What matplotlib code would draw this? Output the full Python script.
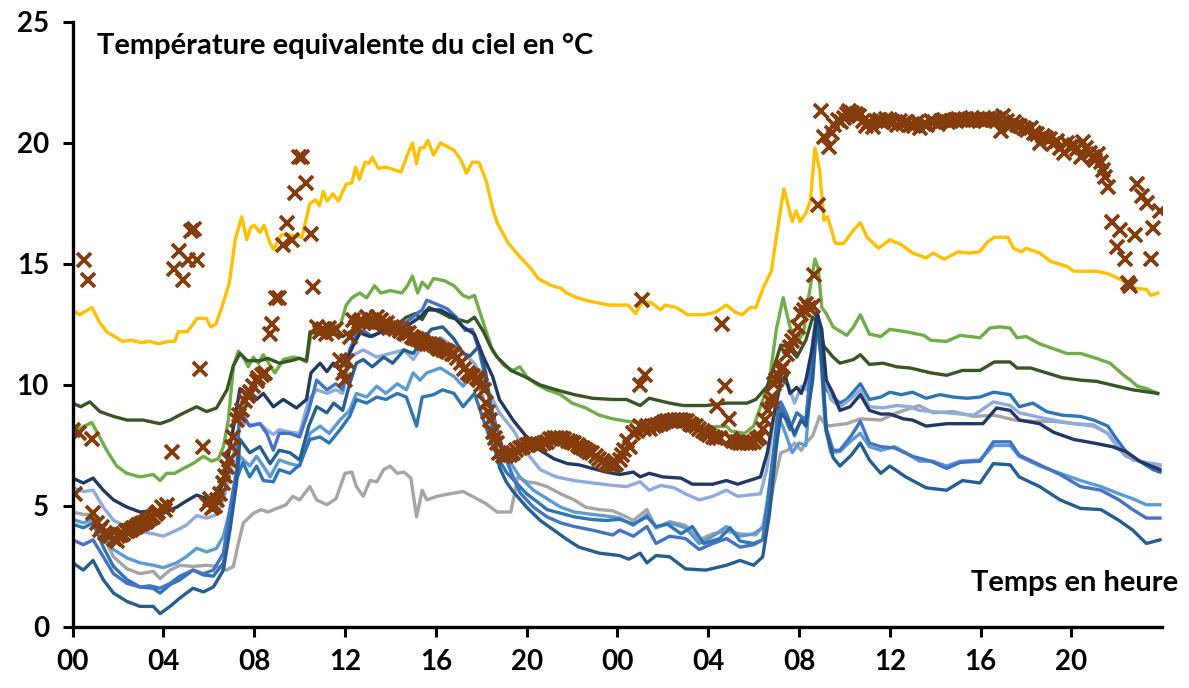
import matplotlib
matplotlib.use("Agg")
import matplotlib.pyplot as plt

plt.rcParams['font.family'] = ['Lato', 'DejaVu Sans']
plt.rcParams['font.weight'] = 'bold'

# heures (0-48) et températures équivalentes du ciel, une liste par courbe
t_jaune = [0.0, 0.3, 0.85, 1.18, 1.5, 1.85, 2.2, 2.6, 3.0, 3.4, 3.8, 4.2, 4.5, 4.65, 5.06, 5.48, 5.9, 6.07, 6.3, 6.57,
           6.9, 7.16, 7.45, 7.67, 7.84, 8.0, 8.26, 8.43, 8.68, 8.85, 9.19, 9.61, 10.1, 10.45, 10.7, 10.87, 11.04, 11.21,
           11.46, 11.71, 12.05, 12.3, 12.47, 12.63, 12.88, 13.05, 13.2, 13.46, 13.8, 14.13, 14.47, 14.72, 14.97, 15.14,
           15.3, 15.47, 15.65, 15.9, 16.2, 16.5, 16.8, 17.1, 17.35, 17.6, 17.9, 18.23, 18.5, 18.7, 19.2, 19.7, 20.2, 20.5,
           21.1, 21.5, 21.75, 22.25, 22.6, 23.1, 23.63, 24.47, 24.8, 25.1, 25.5, 25.9, 26.1, 26.6, 27.1, 27.8, 28.3, 28.8,
           29.2, 29.5, 29.84, 30.1, 30.44, 30.78, 31.03, 31.33, 31.5, 31.7, 31.87, 32.05, 32.3, 32.5, 32.7, 32.9, 33.1,
           33.25, 33.4, 33.6, 33.97, 34.4, 34.7, 35.0, 35.5, 36.0, 36.5, 37.0, 37.6, 37.9, 38.4, 39.0, 39.5, 39.95, 40.3,
           40.6, 41.2, 41.45, 41.8, 42.0, 42.6, 43.1, 43.8, 44.1, 44.6, 45.1, 45.6, 46.3, 46.8, 47.3, 47.5, 47.8]
v_jaune = [13.1, 12.9, 13.2, 12.6, 12.2, 12.0, 11.8, 11.85, 11.75, 11.8, 11.7, 11.8, 11.8, 12.2, 12.2, 12.75, 12.75, 12.4,
           12.5, 13.2, 14.2, 16.0, 16.95, 16.0, 16.5, 16.6, 16.3, 16.6, 15.9, 15.6, 16.2, 16.2, 16.1, 17.5, 17.65, 17.4,
           18.0, 17.6, 17.9, 17.6, 18.3, 18.35, 19.0, 18.5, 19.2, 19.15, 19.4, 18.95, 19.0, 18.9, 18.8, 19.45, 20.0, 19.15,
           19.8, 19.8, 20.1, 19.5, 20.0, 19.85, 19.7, 19.3, 18.75, 19.2, 19.2, 18.4, 17.3, 16.7, 15.85, 15.3, 14.8, 14.4,
           14.1, 14.0, 13.8, 13.6, 13.5, 13.4, 13.3, 13.3, 12.95, 13.45, 13.4, 13.1, 13.3, 13.2, 12.9, 12.9, 13.0, 13.3,
           13.0, 12.9, 13.2, 13.2, 14.05, 14.7, 16.3, 18.1, 17.5, 16.75, 17.2, 16.75, 17.1, 17.6, 19.8, 18.9, 16.8,
           16.95, 16.5, 15.85, 15.85, 16.4, 16.7, 16.1, 15.65, 16.0, 15.8, 15.45, 15.25, 15.45, 15.2, 15.5, 15.45, 15.5,
           15.9, 16.1, 16.1, 15.65, 15.5, 15.65, 15.45, 15.1, 14.9, 14.7, 14.7, 14.7, 14.6, 14.3, 14.0, 13.95, 13.7, 13.8]

t_vert = [0.0, 0.3, 0.84, 1.13, 1.5, 1.94, 2.38, 2.97, 3.55, 3.85, 4.14, 4.5, 4.88, 5.3, 5.76, 6.12, 6.42, 6.64, 6.86,
          7.08, 7.3, 7.52, 7.74, 7.96, 8.18, 8.4, 8.6, 8.91, 9.28, 9.72, 10.0, 10.3, 10.5, 10.75, 11.1, 11.5, 11.8,
          12.05, 12.3, 12.65, 12.95, 13.3, 13.57, 13.99, 14.5, 14.75, 14.97, 15.2, 15.4, 15.65, 15.9, 16.4, 16.8, 17.2,
          17.45, 17.7, 18.1, 18.5, 19.0, 19.4, 19.7, 20.0, 20.4, 20.9, 21.5, 22.0, 22.6, 23.2, 23.8, 24.4, 25.0, 26.0,
          27.0, 28.0, 28.8, 29.0, 29.6, 30.0, 30.3, 30.7, 31.0, 31.3, 31.6, 31.9, 32.2, 32.45, 32.7, 32.85, 33.0, 33.2,
          33.5, 34.1, 34.4, 34.7, 35.1, 35.6, 36.0, 36.7, 37.5, 37.8, 38.5, 39.1, 39.97, 40.4, 40.85, 41.3, 41.6, 42.0,
          42.6, 43.2, 43.8, 44.4, 45.1, 45.7, 46.3, 46.6, 46.9, 47.3, 47.8]
v_vert = [8.3, 8.2, 8.45, 7.95, 7.3, 6.65, 6.35, 6.2, 6.3, 6.05, 6.35, 6.35, 6.55, 6.75, 7.05, 6.85, 6.95, 7.45, 8.55,
          10.75, 11.4, 11.15, 10.75, 11.15, 10.9, 11.25, 10.95, 10.5, 11.05, 11.15, 11.1, 10.95, 12.1, 12.25, 12.2, 12.4,
          12.5, 13.3, 13.6, 13.8, 13.6, 14.1, 13.8, 13.9, 13.8, 14.1, 14.5, 13.8, 14.25, 14.0, 14.4, 14.3, 14.1, 13.7,
          13.6, 13.7, 12.55, 11.4, 10.8, 10.6, 10.75, 10.35, 10.05, 9.8, 9.6, 9.25, 9.05, 8.75, 8.6, 8.5, 8.45, 8.4,
          8.35, 8.25, 8.3, 8.1, 8.0, 8.3, 9.1, 10.2, 12.3, 13.6, 12.4, 11.7, 12.2, 13.8, 15.2, 14.8, 13.2, 12.95,
          12.4, 12.05, 12.4, 12.9, 12.1, 12.0, 12.3, 12.2, 12.05, 11.85, 11.8, 12.05, 11.95, 12.35, 12.4, 12.35, 11.95,
          12.0, 11.7, 11.5, 11.3, 11.3, 11.1, 10.9, 10.4, 10.2, 9.95, 9.85, 9.65]

t_vert_fonce = [0.0, 0.35, 0.76, 1.2, 1.8, 2.4, 3.1, 3.85, 4.3, 4.7, 5.46, 5.9, 6.34, 6.8, 7.08, 7.37, 7.7, 8.25, 8.6,
                9.1, 9.6, 10.0, 10.3, 10.46, 10.9, 11.2, 11.6, 11.9, 12.4, 13.2, 13.9, 14.3, 14.7, 15.1, 15.4, 15.7,
                16.2, 16.6, 17.0, 17.4, 17.7, 18.1, 18.4, 18.7, 19.3, 19.9, 20.6, 21.3, 22.1, 22.9, 23.8, 24.4, 25.0,
                25.4, 26.3, 26.9, 27.9, 28.8, 29.7, 30.1, 30.6, 30.9, 31.2, 31.5, 31.9, 32.3, 32.6, 32.85, 33.1, 33.5,
                33.8, 34.4, 34.7, 35.1, 35.7, 36.3, 36.9, 37.8, 38.5, 39.2, 39.97, 40.6, 41.3, 41.6, 42.2, 42.9, 43.6,
                44.4, 45.1, 46.0, 46.7, 47.8]
v_vert_fonce = [9.25, 9.1, 9.3, 8.9, 8.7, 8.55, 8.55, 8.4, 8.55, 8.75, 9.1, 8.9, 9.05, 9.8, 10.8, 11.3, 11.0, 11.0, 11.1,
                10.9, 11.0, 11.1, 11.0, 12.2, 12.1, 12.05, 12.1, 12.0, 12.3, 12.55, 12.6, 12.5, 12.8, 12.95, 12.7, 13.2,
                13.0, 12.8, 12.7, 12.6, 12.8, 12.2, 11.6, 11.15, 10.6, 10.35, 10.0, 9.8, 9.6, 9.45, 9.4, 9.4, 9.15,
                9.45, 9.25, 9.15, 9.15, 9.25, 9.25, 9.4, 9.95, 10.75, 11.65, 11.6, 11.15, 11.85, 12.8, 12.55, 11.6, 11.15,
                10.9, 11.05, 11.25, 10.85, 10.9, 10.75, 10.7, 10.5, 10.4, 10.6, 10.6, 10.95, 10.95, 10.7, 10.7, 10.5, 10.3,
                10.2, 10.15, 9.95, 9.8, 9.65]

t_marine = [0.0, 0.47, 0.9, 1.35, 1.8, 2.4, 2.97, 3.5, 4.0, 4.58, 5.0, 5.46, 5.9, 6.34, 6.64, 7.0, 7.37, 7.7, 8.1, 8.4,
            8.84, 9.28, 9.86, 10.3, 10.5, 10.9, 11.2, 11.48, 11.78, 12.07, 12.4, 12.66, 13.1, 13.5, 13.98, 14.4, 14.9,
            15.3, 15.6, 16.2, 16.8, 17.2, 17.7, 18.1, 18.5, 18.8, 19.4, 20.0, 20.6, 21.2, 21.8, 22.3, 22.9, 23.5, 24.1,
            24.7, 25.0, 25.4, 26.0, 26.8, 27.3, 28.2, 28.8, 29.3, 29.8, 30.3, 30.6, 30.9, 31.2, 31.4, 31.6, 31.9, 32.1,
            32.3, 32.6, 32.8, 33.0, 33.2, 33.5, 33.8, 34.25, 34.7, 35.1, 35.6, 36.0, 36.6, 37.0, 37.6, 38.5, 39.4, 40.1,
            40.7, 41.3, 41.7, 42.6, 43.2, 44.1, 44.98, 45.8, 46.4, 47.0, 47.9]
v_marine = [6.15, 5.95, 6.15, 5.65, 5.25, 4.95, 4.75, 4.8, 4.7, 4.95, 5.2, 5.45, 5.3, 5.4, 5.95, 7.8, 9.85, 9.5, 9.4, 9.65,
            9.1, 9.4, 9.05, 9.4, 10.5, 10.9, 10.55, 10.9, 10.75, 11.05, 11.7, 12.15, 12.0, 12.15, 12.4, 12.3, 12.55,
            12.8, 13.1, 13.1, 12.8, 12.4, 12.1, 11.15, 10.35, 9.4, 8.55, 7.85, 7.3, 6.95, 6.75, 6.7, 6.55, 6.4, 6.3,
            6.4, 6.2, 6.35, 6.2, 6.15, 5.9, 5.9, 6.05, 5.9, 6.05, 6.2, 7.2, 8.8, 10.2, 10.35, 9.65, 9.9, 9.65,
            10.2, 11.6, 12.95, 12.3, 10.2, 9.65, 8.95, 9.1, 9.6, 8.95, 8.8, 8.8, 8.6, 8.55, 8.3, 8.4, 8.4, 8.4,
            9.05, 8.95, 8.55, 8.4, 8.05, 7.75, 7.6, 7.45, 7.25, 6.85, 6.5]

t_pervenche = [0.0, 0.47, 0.9, 1.35, 1.8, 2.4, 2.97, 3.55, 4.0, 4.58, 5.0, 5.46, 5.9, 6.34, 6.64, 6.93, 7.37, 7.8, 8.25,
               8.55, 8.84, 9.1, 9.57, 10.0, 10.4, 10.75, 11.2, 11.6, 11.9, 12.2, 12.8, 13.4, 13.98, 14.6, 15.0, 15.4,
               16.2, 17.1, 17.7, 18.3, 18.8, 19.4, 20.0, 20.6, 21.3, 22.1, 22.9, 23.8, 24.4, 25.0, 25.4, 25.9, 26.5,
               27.0, 27.6, 28.2, 28.8, 29.3, 29.8, 30.3, 30.6, 30.9, 31.2, 31.5, 31.8, 32.1, 32.3, 32.6, 32.8, 33.0,
               33.4, 33.8, 34.25, 34.7, 35.1, 35.7, 36.3, 36.9, 37.3, 38.5, 39.7, 40.56, 41.3, 41.7, 42.9, 44.1, 44.98,
               45.6, 46.1, 46.7, 47.9]
v_pervenche = [5.75, 5.6, 5.65, 4.95, 4.4, 4.15, 3.95, 3.85, 3.75, 4.0, 4.2, 4.6, 4.5, 4.65, 5.25, 6.35, 8.55, 8.35, 8.4,
               8.15, 7.95, 8.15, 8.05, 8.0, 9.4, 9.8, 9.65, 9.8, 9.65, 11.15, 11.45, 11.15, 11.3, 11.45, 11.05, 11.6,
               11.95, 11.4, 10.9, 9.8, 8.85, 8.15, 7.2, 6.5, 6.2, 6.05, 5.95, 5.85, 5.8, 6.0, 5.65, 5.85, 5.75,
               5.5, 5.25, 5.4, 5.65, 5.4, 5.45, 5.5, 6.6, 8.8, 10.05, 10.05, 9.25, 9.95, 9.8, 11.6, 12.55, 10.9,
               9.4, 9.1, 9.4, 9.8, 9.1, 9.05, 9.15, 9.1, 8.95, 8.85, 8.75, 9.3, 9.15, 8.85, 8.6, 8.4, 8.3,
               8.0, 7.4, 6.9, 6.7]

t_gris = [0.0, 0.47, 0.9, 1.35, 1.8, 2.4, 2.97, 3.55, 3.85, 4.29, 4.73, 5.3, 5.9, 6.34, 6.78, 7.08, 7.3, 7.52, 7.97, 8.3,
          8.6, 9.0, 9.4, 9.7, 10.0, 10.45, 10.75, 11.2, 11.6, 12.0, 12.3, 12.5, 12.8, 13.1, 13.4, 13.7, 13.98, 14.3,
          14.6, 14.9, 15.15, 15.4, 15.6, 16.05, 16.6, 17.2, 17.8, 18.2, 18.7, 19.3, 19.5, 19.6, 20.0, 20.4, 20.9, 21.5,
          22.1, 22.6, 23.2, 23.8, 24.4, 24.7, 25.3, 25.7, 26.3, 27.0, 27.6, 28.2, 28.8, 29.4, 30.1, 30.6, 30.9, 31.2,
          31.5, 31.8, 32.1, 32.3, 32.6, 32.9, 33.2, 34.1, 34.7, 35.6, 36.3, 37.3, 37.9, 38.8, 39.7, 40.6, 41.5, 42.3,
          43.2, 44.1, 44.98, 45.6, 46.0, 46.4, 47.0, 47.9]
v_gris = [4.75, 4.65, 4.65, 3.75, 2.9, 2.4, 2.2, 2.3, 2.0, 2.35, 2.55, 2.5, 2.55, 2.5, 2.35, 2.5, 3.45, 4.3, 4.7, 4.85,
          4.75, 4.9, 5.05, 5.4, 5.25, 5.8, 5.25, 5.05, 5.3, 6.35, 6.4, 5.8, 5.4, 6.05, 6.0, 6.5, 6.65, 6.35,
          6.4, 6.15, 4.55, 5.65, 5.25, 5.4, 5.5, 5.6, 5.3, 5.1, 4.75, 4.75, 5.65, 6.2, 6.0, 5.95, 5.8, 5.5,
          5.25, 4.95, 4.85, 4.8, 4.55, 4.4, 4.85, 4.1, 4.35, 4.2, 3.6, 3.85, 3.95, 3.85, 3.8, 4.4, 5.95, 7.2,
          7.3, 7.6, 7.3, 7.6, 7.9, 8.7, 8.3, 8.4, 8.6, 8.55, 8.85, 9.15, 8.85, 8.9, 8.7, 8.75, 8.55, 8.5,
          8.5, 8.4, 8.35, 8.0, 7.45, 7.05, 6.85, 6.65]

t_bleu = [0.0, 0.47, 0.9, 1.35, 1.8, 2.4, 2.97, 3.55, 3.85, 4.29, 4.73, 5.3, 5.76, 6.2, 6.64, 6.93, 7.22, 7.5, 7.8, 8.1,
          8.4, 8.84, 9.1, 9.57, 10.0, 10.45, 10.9, 11.3, 11.78, 12.2, 12.5, 12.95, 13.4, 13.8, 14.3, 14.7, 15.15, 15.4,
          15.9, 16.3, 16.8, 17.2, 17.7, 18.1, 18.4, 18.7, 19.1, 19.6, 20.0, 20.5, 20.9, 21.5, 22.1, 22.8, 23.5, 24.1,
          24.7, 25.3, 25.7, 26.2, 26.8, 27.3, 27.8, 28.5, 28.96, 29.4, 30.0, 30.4, 30.6, 30.9, 31.1, 31.3, 31.6, 31.9,
          32.3, 32.6, 32.8, 33.0, 33.2, 33.5, 33.8, 34.1, 34.7, 35.1, 35.6, 36.0, 36.5, 37.0, 37.6, 38.2, 38.8, 39.4,
          39.97, 40.56, 41.3, 41.7, 42.3, 42.9, 43.6, 44.4, 44.98, 45.6, 46.0, 46.4, 47.0, 47.6, 47.9]
v_bleu = [4.25, 4.1, 4.3, 3.3, 2.5, 1.95, 1.65, 1.6, 1.4, 1.75, 1.95, 2.35, 2.15, 2.1, 2.65, 4.3, 6.1, 6.8, 6.2, 6.65,
          6.05, 6.0, 6.5, 6.35, 6.7, 7.75, 7.85, 7.6, 8.15, 8.7, 9.4, 9.25, 9.5, 9.4, 9.65, 9.5, 8.3, 9.5,
          9.6, 9.8, 9.65, 9.1, 9.65, 8.55, 7.75, 7.05, 6.4, 5.9, 5.5, 5.15, 4.85, 4.7, 4.55, 4.45, 4.4, 4.45,
          4.25, 4.55, 4.15, 4.25, 3.85, 4.15, 3.45, 3.65, 4.1, 3.55, 3.45, 3.6, 4.95, 7.45, 9.25, 8.85, 8.15, 8.85,
          8.55, 11.15, 12.95, 11.6, 9.8, 9.5, 9.25, 9.4, 10.05, 9.4, 9.5, 9.7, 9.6, 9.7, 9.45, 9.6, 9.5, 9.45,
          9.5, 9.7, 9.6, 9.1, 9.25, 8.9, 8.75, 8.7, 8.55, 8.3, 7.75, 7.25, 6.85, 6.5, 6.4]

t_bleu_clair = [0.0, 0.47, 0.9, 1.35, 1.8, 2.4, 2.97, 3.55, 4.0, 4.58, 5.0, 5.46, 5.9, 6.34, 6.64, 6.93, 7.22, 7.37,
                7.8, 8.1, 8.4, 8.7, 9.1, 9.57, 10.0, 10.45, 10.9, 11.3, 11.78, 12.2, 12.5, 12.95, 13.4, 13.8, 14.3, 14.7,
                15.0, 15.3, 15.6, 16.2, 16.8, 17.2, 17.7, 18.1, 18.5, 18.97, 19.1, 19.7, 20.3, 20.9, 21.5, 22.1, 22.9,
                23.8, 24.1, 24.7, 25.3, 25.7, 26.3, 27.0, 27.6, 28.2, 28.8, 29.4, 30.0, 30.4, 30.6, 30.9, 31.15, 31.4,
                31.7, 32.0, 32.3, 32.55, 32.75, 32.95, 33.15, 33.4, 33.8, 34.3, 34.7, 35.1, 35.6, 36.2, 36.7, 37.3,
                37.9, 38.5, 39.1, 39.97, 40.56, 41.3, 41.7, 42.6, 43.5, 44.4, 45.3, 46.1, 46.7, 47.3, 47.9]
v_bleu_clair = [4.45, 4.3, 4.45, 3.75, 3.2, 2.85, 2.65, 2.55, 2.45, 2.65, 2.9, 3.25, 3.1, 3.25, 3.75, 4.85, 6.2, 7.05,
                6.65, 7.05, 6.65, 6.2, 6.9, 6.75, 6.65, 8.0, 8.3, 8.0, 8.55, 8.95, 9.65, 9.5, 9.95, 9.65, 10.05, 9.8,
                10.5, 10.2, 10.5, 10.7, 10.35, 9.95, 10.5, 9.4, 8.15, 7.3, 7.05, 6.2, 5.65, 5.3, 4.95, 4.75, 4.65,
                4.55, 4.5, 4.2, 4.65, 4.1, 4.3, 4.1, 3.45, 3.75, 4.15, 3.75, 3.85, 4.1, 5.2, 7.3, 8.6, 8.0,
                7.2, 7.6, 7.5, 10.5, 12.6, 11.3, 8.3, 7.2, 7.25, 7.7, 8.0, 7.45, 7.3, 7.45, 7.2, 6.85,
                6.85, 6.65, 6.85, 6.9, 7.5, 7.5, 7.05, 6.65, 6.35, 6.05, 5.8, 5.5, 5.3, 5.05, 5.05]

t_roi = [0.0, 0.47, 0.9, 1.35, 1.8, 2.4, 2.97, 3.4, 3.85, 4.29, 4.73, 5.3, 5.76, 6.2, 6.64, 6.93, 7.22, 7.37, 7.8, 8.25,
         8.55, 8.84, 9.1, 9.57, 10.0, 10.4, 10.75, 11.2, 11.6, 11.9, 12.2, 12.5, 12.8, 13.2, 13.7, 14.1, 14.6, 15.0,
         15.15, 15.4, 15.6, 16.0, 16.5, 16.9, 17.3, 17.6, 17.9, 18.2, 18.5, 18.8, 19.1, 19.7, 20.3, 20.9, 21.5, 22.1,
         22.9, 23.8, 24.1, 24.7, 25.3, 25.7, 26.3, 27.0, 27.6, 28.2, 28.8, 29.4, 30.0, 30.4, 30.6, 30.9, 31.2, 31.5,
         31.8, 32.1, 32.3, 32.6, 32.8, 33.0, 33.2, 33.5, 33.8, 34.3, 34.7, 35.1, 35.6, 36.2, 37.0, 37.8, 38.5, 39.1,
         39.97, 40.56, 41.3, 41.7, 42.6, 43.5, 44.4, 45.3, 46.1, 46.7, 47.3, 47.9]
v_roi = [3.6, 3.4, 3.6, 2.9, 2.2, 1.8, 1.65, 1.7, 1.6, 1.8, 2.1, 2.35, 2.2, 2.35, 3.05, 4.85, 6.5, 8.95, 8.3, 8.4,
         8.0, 7.3, 8.0, 8.0, 7.85, 8.95, 10.2, 9.8, 10.05, 9.8, 11.45, 12.1, 12.25, 12.0, 12.25, 12.1, 12.55, 12.8,
         12.95, 13.1, 13.5, 13.35, 13.15, 12.8, 12.25, 12.3, 11.45, 10.2, 8.85, 7.85, 6.9, 5.55, 4.95, 4.55, 4.3, 4.15,
         4.0, 3.8, 4.0, 3.75, 4.15, 3.45, 3.75, 3.65, 3.2, 3.45, 3.65, 3.3, 3.4, 3.6, 4.6, 7.0, 9.3, 8.7,
         7.9, 8.6, 8.4, 11.8, 13.1, 11.0, 8.2, 7.3, 7.3, 7.9, 8.5, 7.6, 7.45, 7.4, 7.05, 6.85, 6.55, 6.8,
         6.85, 7.65, 7.65, 7.1, 6.7, 6.3, 5.8, 5.65, 5.25, 4.85, 4.5, 4.5]

t_acier = [0.0, 0.47, 0.9, 1.35, 1.8, 2.4, 2.97, 3.55, 3.85, 4.29, 4.73, 5.3, 5.76, 6.2, 6.64, 6.93, 7.22, 7.37, 7.8,
           8.25, 8.7, 9.1, 9.57, 10.0, 10.4, 10.75, 11.2, 11.5, 11.9, 12.2, 12.5, 12.8, 13.2, 13.7, 14.1, 14.6, 15.0,
           15.4, 15.8, 16.3, 16.8, 17.2, 17.5, 17.9, 18.2, 18.5, 18.8, 19.1, 19.4, 20.0, 20.6, 21.2, 21.8, 22.3, 23.2,
           24.1, 24.5, 25.0, 25.3, 25.7, 26.3, 27.0, 27.9, 28.8, 29.4, 30.0, 30.4, 30.7, 31.0, 31.2, 31.5, 31.8, 32.1,
           32.3, 32.6, 32.8, 33.0, 33.2, 33.5, 33.8, 34.3, 34.7, 35.1, 35.6, 36.0, 36.7, 37.6, 38.5, 39.2, 39.97, 40.56,
           41.3, 41.7, 42.6, 43.5, 44.4, 45.3, 46.1, 46.7, 47.3, 47.9]
v_acier = [2.65, 2.35, 2.75, 1.95, 1.4, 1.05, 0.85, 0.85, 0.55, 0.85, 1.2, 1.6, 1.45, 1.65, 2.35, 4.0, 5.95, 7.75, 7.2,
           7.45, 6.75, 7.3, 7.2, 6.9, 8.3, 9.1, 8.85, 9.25, 8.95, 10.05, 10.9, 11.05, 10.75, 11.15, 10.9, 11.45, 11.3,
           11.85, 12.3, 12.4, 11.9, 11.3, 11.2, 11.6, 10.5, 8.4, 6.6, 6.0, 5.6, 4.95, 4.4, 4.0, 3.6, 3.3, 3.05,
           2.95, 2.8, 3.05, 2.65, 2.95, 2.9, 2.4, 2.35, 2.55, 2.75, 2.55, 2.9, 4.7, 7.45, 8.8, 8.55, 8.0, 8.55,
           8.3, 10.2, 12.8, 10.9, 8.1, 7.0, 6.65, 7.1, 7.6, 6.9, 6.35, 6.65, 6.2, 5.75, 5.65, 6.05, 5.95, 6.75,
           6.7, 6.2, 5.8, 5.25, 4.9, 4.85, 4.4, 4.0, 3.45, 3.6]

# mesures (croix)
t_mesure = [0.0, 0.3, 0.85, 0.1, 0.5, 0.67,
            0.9, 1.06, 1.2, 1.3, 1.42, 1.55, 1.64, 1.8, 1.94, 2.0, 2.12, 2.23, 2.35, 2.45, 2.57, 2.67, 2.8, 2.9, 3.0,
            3.1, 3.22, 3.33, 3.45, 3.55, 3.67, 3.77, 3.92, 4.05, 4.14,
            4.36, 4.47, 4.67, 4.86, 5.06, 5.23, 5.36, 5.48, 5.61, 5.76,
            5.9, 6.05, 6.12, 6.25, 6.35, 6.5, 6.64, 6.72, 6.8, 6.9, 7.0, 7.08, 7.22, 7.35, 7.44, 7.6, 7.72, 7.8, 7.96,
            8.1, 8.18, 8.33, 8.47,
            8.68, 8.8, 8.94, 9.1, 9.27, 9.44, 9.65, 9.78, 9.95, 10.1, 10.3, 10.49, 10.6,
            10.75, 10.9, 11.04, 11.17, 11.3, 11.45, 11.6, 11.78, 11.9, 12.0, 12.1, 12.2, 12.36, 12.5, 12.6, 12.7, 12.85,
            12.95, 13.08, 13.2, 13.3, 13.4, 13.5, 13.6, 13.72, 13.84, 13.95, 14.05, 14.18, 14.3, 14.4, 14.5, 14.6,
            14.7, 14.82, 14.93, 15.05, 15.15, 15.28, 15.4, 15.5, 15.6, 15.75, 15.9, 16.05, 16.15, 16.3, 16.45, 16.55,
            16.7, 16.8, 16.95, 17.1, 17.25, 17.4, 17.52, 17.65, 17.8, 17.9, 18.0, 18.1, 18.2, 18.3, 18.4, 18.5, 18.6,
            18.7, 18.8, 18.95, 19.1, 19.25, 19.4, 19.55, 19.7, 19.85, 20.0, 20.15, 20.3, 20.45, 20.6, 20.75, 20.9,
            21.05, 21.2, 21.35, 21.5, 21.65, 21.8, 21.95, 22.1, 22.25, 22.35, 22.5, 22.6, 22.75, 22.9, 23.05, 23.2,
            23.35, 23.5, 23.65, 23.8, 23.95, 24.1, 24.2, 24.3, 24.4, 24.55, 24.7, 24.85, 24.99,
            25.0, 25.2, 25.1,
            25.15, 25.3, 25.45, 25.6, 25.75, 25.9, 26.05, 26.2, 26.35, 26.5, 26.65, 26.8, 26.95, 27.05, 27.2, 27.3,
            27.45, 27.6, 27.75, 27.9, 28.05, 28.2, 28.35, 28.5,
            28.4, 28.6, 28.75, 28.9,
            29.0, 29.1, 29.25, 29.4, 29.55, 29.7, 29.85, 30.0, 30.15, 30.3, 30.4, 30.5, 30.65, 30.75, 30.8, 30.9, 31.0,
            31.1, 31.2, 31.3, 31.45, 31.6, 31.7, 31.8, 31.97, 32.1, 32.2, 32.3, 32.45, 32.6, 32.68, 32.85,
            32.97, 33.1, 33.3, 33.45, 33.55, 33.7, 33.85, 34.0, 34.1, 34.2, 34.35, 34.5, 34.65, 34.8, 34.95, 35.1,
            35.25, 35.4, 35.55, 35.7, 35.85, 36.0, 36.15, 36.3, 36.45, 36.6, 36.75, 36.9, 37.05, 37.2, 37.35, 37.5,
            37.65, 37.8, 37.95, 38.1, 38.25, 38.4, 38.55, 38.7, 38.85, 39.0, 39.15, 39.3, 39.45, 39.6, 39.75, 39.9,
            40.05, 40.2, 40.35, 40.5, 40.65, 40.8, 40.9, 41.0, 41.15, 41.3, 41.45, 41.6, 41.75, 41.9, 42.05, 42.2,
            42.35, 42.5, 42.6, 42.75, 42.9, 43.05, 43.2, 43.35, 43.5, 43.65, 43.8, 43.95, 44.1, 44.25, 44.4, 44.5,
            44.65, 44.8, 44.95, 45.05, 45.15, 45.3, 45.4, 45.5, 45.6,
            45.8, 46.15, 46.0, 46.35, 46.5, 46.6, 46.9, 47.1, 47.35, 46.8, 47.6, 47.5, 47.9]
v_mesure = [8.15, 8.0, 7.75, 5.5, 15.15, 14.35,
            4.7, 4.3, 4.0, 4.15, 3.9, 3.8, 3.75, 3.65, 3.55, 3.75, 3.8, 3.85, 3.95, 3.95, 4.0, 4.1, 4.15, 4.2, 4.25,
            4.3, 4.35, 4.4, 4.5, 4.55, 4.65, 4.75, 4.95, 4.85, 5.05,
            7.25, 14.8, 15.55, 14.35, 15.15, 16.35, 16.45, 15.15, 10.65, 7.45,
            5.1, 5.3, 4.9, 5.0, 5.25, 5.5, 5.95, 6.25, 6.6, 6.9, 7.45, 7.85, 8.55, 8.75, 8.95, 9.35, 9.55, 9.7, 9.95,
            10.15, 10.3, 10.4, 10.5,
            12.1, 12.5, 13.6, 13.6, 15.8, 16.7, 16.0, 17.95, 19.4, 19.4, 18.35, 16.25, 14.05,
            12.4, 12.2, 12.3, 12.1, 12.35, 12.2, 12.3, 11.05, 10.5, 10.2, 11.0, 12.0, 12.7, 12.4, 12.6, 12.7, 12.55,
            12.8, 12.6, 12.7, 12.55, 12.8, 12.6, 12.7, 12.5, 12.55, 12.35, 12.4, 12.3, 12.4, 12.25, 12.3, 12.15,
            12.1, 12.15, 12.0, 11.95, 11.9, 11.85, 11.8, 11.75, 11.7, 11.7, 11.65, 11.55, 11.5, 11.45, 11.4, 11.35,
            11.3, 11.3, 11.1, 10.9, 10.65, 10.5, 10.4, 10.35, 10.3, 10.2, 10.0, 9.8, 9.25, 8.9, 8.55, 8.05, 7.8,
            7.6, 7.2, 7.05, 7.05, 7.1, 7.2, 7.3, 7.4, 7.45, 7.5, 7.55, 7.6, 7.55, 7.5, 7.6, 7.65,
            7.75, 7.8, 7.8, 7.8, 7.75, 7.7, 7.65, 7.6, 7.5, 7.45, 7.4, 7.3, 7.25, 7.2, 7.05, 6.95,
            6.85, 6.75, 6.7, 6.65, 6.75, 6.9, 7.1, 7.3, 7.7, 7.45, 8.0, 8.1, 8.3,
            10.0, 10.4, 13.5,
            8.2, 8.3, 8.2, 8.3, 8.35, 8.4, 8.45, 8.5, 8.5, 8.55, 8.55, 8.55, 8.5, 8.5, 8.4, 8.35,
            8.3, 8.2, 8.1, 8.0, 7.95, 7.85, 7.8, 7.8,
            9.15, 12.5, 9.95, 8.6,
            7.75, 7.7, 7.65, 7.6, 7.6, 7.6, 7.6, 7.65, 7.75, 7.85, 8.2, 8.55, 8.95, 9.3, 9.5, 10.05, 10.2,
            10.35, 10.6, 10.75, 11.3, 11.55, 11.8, 12.0, 12.4, 12.95, 13.1, 13.35, 13.2, 13.25, 14.55, 17.45,
            21.3, 20.25, 19.85, 20.4, 20.75, 20.95, 20.85, 21.05, 21.2, 21.3, 21.25, 21.2, 21.1, 20.9, 20.7, 20.85,
            20.65, 20.9, 20.95, 20.85, 21.0, 20.95, 20.85, 20.75, 20.9, 20.8, 20.85, 20.75, 20.7, 20.85, 20.6, 20.8,
            20.75, 20.9, 20.85, 20.8, 20.9, 20.95, 20.85, 20.9, 20.95, 21.0, 20.95, 21.0, 20.9, 21.05, 20.95, 21.0,
            20.95, 20.9, 21.0, 20.95, 21.05, 21.0, 20.5, 21.1, 20.9, 20.7, 20.85, 20.75, 20.7, 20.6, 20.55, 20.6,
            20.4, 20.35, 20.0, 20.3, 20.2, 20.15, 19.95, 20.1, 19.8, 19.6, 20.0, 19.85, 19.9, 19.75, 19.4, 20.05,
            19.8, 19.6, 19.4, 19.3, 19.55, 19.2, 18.9, 18.6, 18.2,
            16.75, 16.4, 15.7, 15.2, 14.2, 14.1, 18.3, 17.8, 17.5, 16.2, 16.5, 15.2, 17.2]

heures = [0, 4, 8, 12, 16, 20, 24, 28, 32, 36, 40, 44]
etiquettes = ["00", "04", "08", "12", "16", "20", "00", "04", "08", "12", "16", "20"]

courbes = [
    (t_gris, v_gris, "#A5A5A5"),
    (t_vert, v_vert, "#70AD47"),
    (t_vert_fonce, v_vert_fonce, "#375623"),
    (t_bleu_clair, v_bleu_clair, "#5B9BD5"),
    (t_bleu, v_bleu, "#2E75B6"),
    (t_pervenche, v_pervenche, "#8FAADC"),
    (t_roi, v_roi, "#4472C4"),
    (t_acier, v_acier, "#255E91"),
    (t_marine, v_marine, "#203864"),
    (t_jaune, v_jaune, "#FFC000"),
]

fig = plt.figure(figsize=(11.89, 6.88), dpi=100)
ax = fig.add_axes([0.0611, 0.0887, 0.9164, 0.8794])

for t, v, c in courbes:
    ax.plot(t, v, color=c, lw=2.4, solid_joinstyle='round')

ax.plot(t_mesure, v_mesure, linestyle='none', marker='x', ms=10.5, mew=2.7, color="#843C0C")

ax.set_xlim(0, 48)
ax.set_ylim(0, 25)
ax.set_xticks(heures)
ax.set_xticklabels(etiquettes)
ax.set_yticks([0, 5, 10, 15, 20, 25])

for s in ['top', 'right']:
    ax.spines[s].set_visible(False)
for s in ['left', 'bottom']:
    ax.spines[s].set_linewidth(2.4)

ax.tick_params(axis='both', direction='out', length=7, width=2.2, labelsize=20)
ax.tick_params(axis='x', pad=9)
ax.tick_params(axis='y', pad=10)

ax.text(1.07, 24.0, "Température equivalente du ciel en °C", fontsize=21, fontweight='bold', va='center', ha='left')
ax.text(48.7, 1.8, "Temps en heure", fontsize=21, fontweight='bold', va='center', ha='right', clip_on=False)

fig.savefig("out.png", dpi=100)
